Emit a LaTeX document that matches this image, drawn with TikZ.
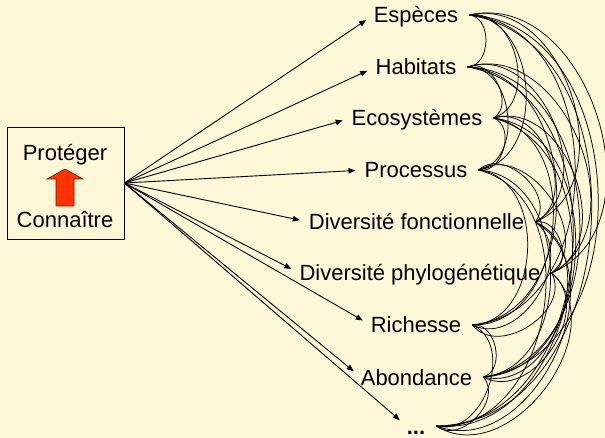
\documentclass[tikz,border=0pt]{standalone}
\usepackage{fontspec}
\setmainfont{Liberation Sans}
\usetikzlibrary{arrows.meta,calc}
\definecolor{bg}{RGB}{253,247,215}
\definecolor{redarrow}{RGB}{255,51,0}
\definecolor{redline}{RGB}{120,20,0}
\begin{document}
\begin{tikzpicture}[x=1pt,y=-1pt,
  lab/.style={font=\fontsize{22}{26}\selectfont, inner xsep=0pt, inner ysep=1pt, text height=18pt, text depth=2pt},
  feed/.style={line width=0.9pt, -{Triangle[length=7pt,width=5.5pt]}, shorten >=9pt},
  link/.style={line width=0.75pt, bend left=85, looseness=1.15},
  framebox/.style={draw=black, line width=0.9pt, minimum width=117pt, minimum height=112pt, inner sep=0pt}]
\fill[bg] (0,0) rectangle (605,438);
\useasboundingbox (0,0) rectangle (605,438);
\clip (0,0) rectangle (605,438);
% left box
\node[framebox] (box) at (65.5,183) {};
\node[lab] (prot) at (65,153) {Protéger};
\node[lab] (conn) at (65,220) {Connaître};
\filldraw[fill=redarrow, draw=redline, line width=0.6pt]
  (65,169) -- (83,179) -- (74,179) -- (74,206) -- (56,206) -- (56,179) -- (47,179) -- cycle;
% right labels
\node[lab] (esp)  at (416,15)   {Espèces};
\node[lab] (hab)  at (416,67)   {Habitats};
\node[lab] (eco)  at (417,118)  {Ecosystèmes};
\node[lab] (proc) at (416,170)  {Processus};
\node[lab] (divf) at (416.5,222) {Diversité fonctionnelle};
\node[lab] (divp) at (420,273)  {Diversité phylogénétique};
\node[lab] (rich) at (416,325)  {Richesse};
\node[lab] (abon) at (416.5,377) {Abondance};
\node[lab] (etc)  at (416,426)  {\textbf{...}};
% arrows from the box
\foreach \t in {esp,hab,eco,proc,divf,divp,rich,abon,etc}
  \draw[feed] (box.east) -- (\t.west);
% anchor points on the right
\foreach \a in {esp,hab,eco,proc,divf,divp,rich,abon,etc}
  \coordinate (\a-r) at ([xshift=11pt]\a.east);
% complete graph of curves
\foreach \a [count=\i] in {esp,hab,eco,proc,divf,divp,rich,abon,etc}{
  \foreach \b [count=\j] in {esp,hab,eco,proc,divf,divp,rich,abon,etc}{
    \ifnum\j>\i \draw[link] (\a-r) to (\b-r); \fi
  }}
\end{tikzpicture}
\end{document}
